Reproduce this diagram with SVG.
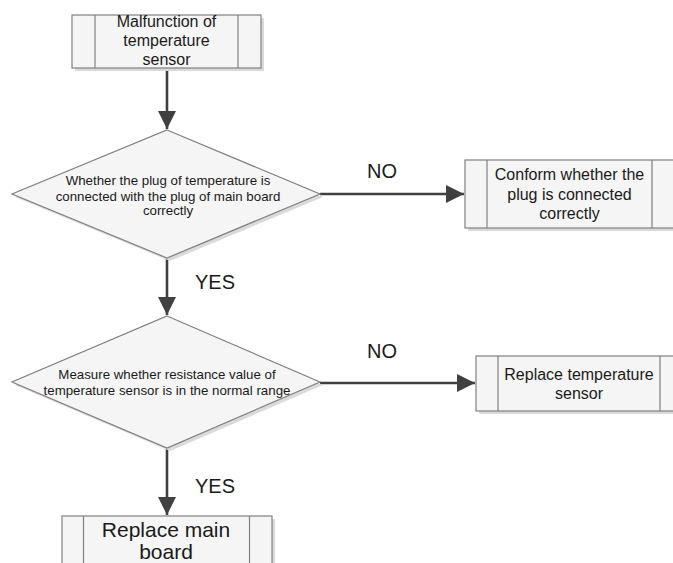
<svg xmlns="http://www.w3.org/2000/svg" width="673" height="563" viewBox="0 0 673 563">
  <style>
    .box { fill: #f5f5f5; stroke: #808080; stroke-width: 1.2; }
    .inner { fill: none; stroke: #808080; stroke-width: 1.2; }
    .shadow { fill: #dadada; stroke: none; }
    .dia { fill: #f5f5f5; stroke: #808080; stroke-width: 1.2; }
    .conn { stroke: #404040; stroke-width: 2.6; fill: none; }
    .t16 { font-family: "Liberation Sans", Arial, sans-serif; font-size: 16px; fill: #1a1a1a; text-anchor: middle; }
    .t13 { font-family: "Liberation Sans", Arial, sans-serif; font-size: 13.3px; fill: #1a1a1a; text-anchor: middle; }
    .t20 { font-family: "Liberation Sans", Arial, sans-serif; font-size: 20px; fill: #1a1a1a; text-anchor: middle; }
    .t21 { font-family: "Liberation Sans", Arial, sans-serif; font-size: 21px; fill: #1a1a1a; text-anchor: middle; }
  </style>
  <defs>
    <marker id="arr" markerUnits="userSpaceOnUse" markerWidth="18" markerHeight="18" viewBox="0 0 16 16" refX="16" refY="8" orient="auto">
      <path d="M0,0 L16,8 L0,16 Z" fill="#404040"/>
    </marker>
  </defs>
  <rect width="673" height="563" fill="#ffffff"/>

  <g id="connectors">
    <line class="conn" x1="167" y1="68" x2="167" y2="129" marker-end="url(#arr)"/>
    <line class="conn" x1="167" y1="258" x2="167" y2="315" marker-end="url(#arr)"/>
    <line class="conn" x1="167" y1="448" x2="167" y2="515" marker-end="url(#arr)"/>
    <line class="conn" x1="320" y1="194" x2="464" y2="194" marker-end="url(#arr)"/>
    <line class="conn" x1="320" y1="383" x2="475" y2="383" marker-end="url(#arr)"/>
    <text class="t20" x="382" y="178">NO</text>
    <text class="t20" x="382" y="358">NO</text>
    <text class="t20" x="215" y="289">YES</text>
    <text class="t20" x="215" y="493">YES</text>
  </g>

  <g id="start">
    <rect class="shadow" x="75" y="18" width="189" height="53"/>
    <rect class="box" x="72" y="15" width="189" height="53"/>
    <line class="inner" x1="95" y1="15" x2="95" y2="68"/>
    <line class="inner" x1="238" y1="15" x2="238" y2="68"/>
    <text class="t16" x="166.5" y="27">Malfunction of</text>
    <text class="t16" x="166.5" y="46">temperature</text>
    <text class="t16" x="166.5" y="64.5">sensor</text>
  </g>

  <g id="decision1">
    <polygon class="shadow" points="170,133 323,197 170,261 15,197"/>
    <polygon class="dia" points="167,130 320,194 167,258 12,194"/>
    <text class="t13" x="168" y="184.5">Whether the plug of temperature is</text>
    <text class="t13" x="168" y="200.5">connected with the plug of main board</text>
    <text class="t13" x="168" y="215">correctly</text>
  </g>

  <g id="conform">
    <rect class="shadow" x="468" y="163" width="209" height="68"/>
    <rect class="box" x="465" y="160" width="209" height="68"/>
    <line class="inner" x1="487" y1="160" x2="487" y2="228"/>
    <line class="inner" x1="652" y1="160" x2="652" y2="228"/>
    <text class="t16" x="569.5" y="179.5">Conform whether the</text>
    <text class="t16" x="569.5" y="199.5">plug is connected</text>
    <text class="t16" x="569.5" y="219">correctly</text>
  </g>

  <g id="decision2">
    <polygon class="shadow" points="170,319 323,385 170,451 15,385"/>
    <polygon class="dia" points="167,316 320,382 167,448 12,382"/>
    <text class="t13" x="167" y="378.5">Measure whether resistance value of</text>
    <text class="t13" x="167" y="394.5">temperature sensor is in the normal range</text>
  </g>

  <g id="replace-sensor">
    <rect class="shadow" x="479" y="359" width="206" height="55"/>
    <rect class="box" x="476" y="356" width="206" height="55"/>
    <line class="inner" x1="498" y1="356" x2="498" y2="411"/>
    <line class="inner" x1="660" y1="356" x2="660" y2="411"/>
    <text class="t16" x="579" y="379.5">Replace temperature</text>
    <text class="t16" x="579" y="398.5">sensor</text>
  </g>

  <g id="replace-board">
    <rect class="shadow" x="65" y="519" width="210" height="60"/>
    <rect class="box" x="62" y="516" width="210" height="60"/>
    <line class="inner" x1="83.5" y1="516" x2="83.5" y2="576"/>
    <line class="inner" x1="249.5" y1="516" x2="249.5" y2="576"/>
    <text class="t21" x="166" y="537">Replace main</text>
    <text class="t21" x="166" y="559">board</text>
  </g>
</svg>
